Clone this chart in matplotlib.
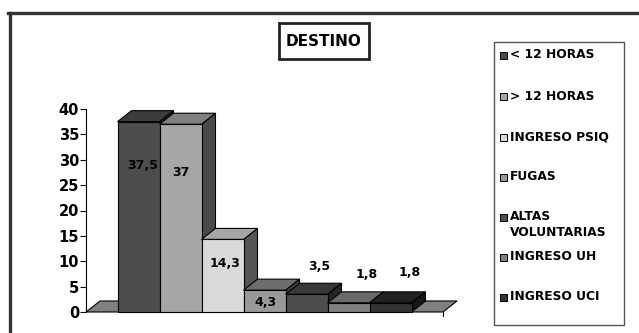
import matplotlib
matplotlib.use("Agg")
import matplotlib.pyplot as plt
from matplotlib.patches import Polygon, Rectangle
from matplotlib.lines import Line2D

# ---- data ----
categories = ["< 12 HORAS", "> 12 HORAS", "INGRESO PSIQ", "FUGAS",
              "ALTAS\nVOLUNTARIAS", "INGRESO UH", "INGRESO UCI"]
values = [37.5, 37, 14.3, 4.3, 3.5, 1.8, 1.8]
value_labels = ["37,5", "37", "14,3", "4,3", "3,5", "1,8", "1,8"]
yticks = [0, 5, 10, 15, 20, 25, 30, 35, 40]

# ---- style / layout ----
front = ["#4d4d4d", "#a6a6a6", "#d9d9d9", "#999999", "#4d4d4d", "#808080", "#333333"]
top = ["#3c3c3c", "#808080", "#a6a6a6", "#6e6e6e", "#383838", "#6a6a6a", "#222222"]
side = ["#2e2e2e", "#4a4a4a", "#555555", "#444444", "#262626", "#4a4a4a", "#161616"]
# label offsets (dx from bar left, dy from bar value)
lab_off = [(0.6, -8.6), (0.5, -9.6), (0.57, -4.7), (0.52, -2.5),
           (0.81, 5.4), (0.93, 5.5), (0.95, 5.9)]
dx, dy = 0.333, 2.17          # 3d depth in data units
x0, x1 = -0.75, 7.75          # floor extent

W, H = 639, 333
plt.rcParams['font.family'] = ['DejaVu Sans']
fig = plt.figure(figsize=(W / 100, H / 100), dpi=100)


def fx(px):
    return px / W


def fy(py):
    return 1 - py / H


ax = fig.add_axes([fx(86), fy(312), fx(443) - fx(86), fy(109) - fy(312)])
ax.set_xlim(x0, x1)
ax.set_ylim(0, 40)
ax.patch.set_visible(False)
for s in ["top", "right", "bottom"]:
    ax.spines[s].set_visible(False)
ax.spines["left"].set_linewidth(0.8)
ax.set_xticks([])
ax.set_yticks(yticks)
ax.tick_params(axis="y", direction="out", length=4, width=0.8, pad=1,
               labelsize=10.5)
for t in ax.get_yticklabels():
    t.set_fontweight("bold")

# floor
ax.add_patch(Polygon([(x0, 0), (x1, 0), (x1 + dx, dy), (x0 + dx, dy)],
                     closed=True, facecolor="#808080", edgecolor="black",
                     lw=0.8, clip_on=False, zorder=1))
ax.add_line(Line2D([x1, x1], [0, -0.8], color="black", lw=0.8,
                   clip_on=False))

# bars
for i, v in enumerate(values):
    kw = dict(closed=True, edgecolor="black", lw=0.8, clip_on=False, zorder=2)
    ax.add_patch(Polygon([(i + 1, 0), (i + 1 + dx, dy), (i + 1 + dx, v + dy),
                          (i + 1, v)], facecolor=side[i], **kw))
    ax.add_patch(Polygon([(i, v), (i + 1, v), (i + 1 + dx, v + dy),
                          (i + dx, v + dy)], facecolor=top[i], **kw))
    ax.add_patch(Polygon([(i, 0), (i + 1, 0), (i + 1, v), (i, v)],
                         facecolor=front[i], **kw))

for i, (v, lab) in enumerate(zip(values, value_labels)):
    ox, oy = lab_off[i]
    ax.text(i + ox, v + oy, lab, ha="center", va="center", fontsize=9,
            fontweight="bold", zorder=5)

# title box
fig.add_artist(Rectangle((fx(279), fy(59)), fx(369) - fx(279), fy(23) - fy(59),
                         transform=fig.transFigure, facecolor="white",
                         edgecolor="#222222", lw=2))
fig.text(fx(324), fy(41.5), "DESTINO", ha="center", va="center",
         fontsize=11, fontweight="bold")

# legend
fig.add_artist(Rectangle((fx(494), fy(325)), fx(624) - fx(494), fy(42) - fy(325),
                         transform=fig.transFigure, facecolor="white",
                         edgecolor="#555555", lw=1))
leg_y = [55, 96, 137, 177, 217, 257, 297]
for i, lab in enumerate(categories):
    y = leg_y[i]
    fig.add_artist(Rectangle((fx(500), fy(y + 3.5)), fx(7), fy(0) - fy(7),
                             transform=fig.transFigure, facecolor=front[i],
                             edgecolor="black", lw=0.7))
    fig.text(fx(509.5), fy(y - 6.5), lab, ha="left", va="top", fontsize=8.8,
             fontweight="bold", linespacing=1.3)

# outer frame (runs off the right/bottom edges)
fig.add_artist(Line2D([fx(9.5), fx(9.5)], [fy(12.5), -0.1], color="#333333",
                      lw=2.4, transform=fig.transFigure))
fig.add_artist(Line2D([fx(8.3), 1.1], [fy(12.5), fy(12.5)], color="#333333",
                      lw=2.4, transform=fig.transFigure))

fig.savefig("out.png", dpi=100)
